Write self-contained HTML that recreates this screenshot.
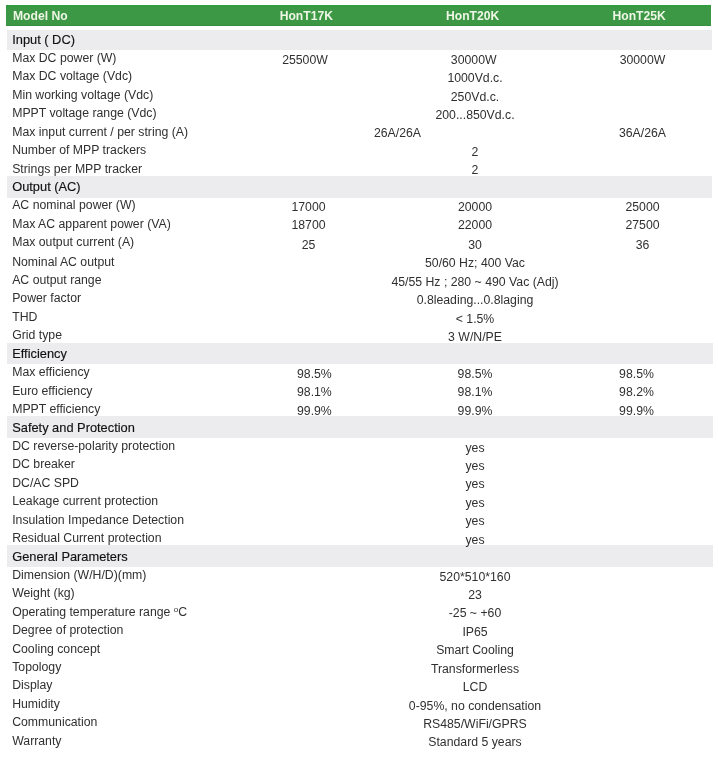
<!DOCTYPE html>
<html><head><meta charset="utf-8"><title>HonT Specifications</title>
<style>
html,body{margin:0;padding:0;background:#fff;}
body{width:718px;height:764px;position:relative;overflow:hidden;font-family:"Liberation Sans",sans-serif;font-size:12.28px;color:#303030;}
.hd{position:absolute;left:6px;top:5px;width:705px;height:21px;background:linear-gradient(to bottom,#329b3e 0,#329b3e 1.5px,#3d9845 2.5px,#3d9845 19px,#388e3f 21px);}
.hd span{position:absolute;top:1px;line-height:21px;color:#eef6e6;font-weight:bold;font-size:12.15px;white-space:nowrap;}
.band{position:absolute;left:6.7px;background:#ececee;}
.r{z-index:1;position:absolute;left:0;width:718px;height:18px;line-height:18px;white-space:nowrap;}
.l{position:absolute;left:12.2px;top:0.6px;}
.v{position:absolute;top:2.3px;width:300px;text-align:center;}
.sec .l{top:0.8px;color:#111;font-size:12.83px;-webkit-text-stroke:0.15px #111;}
.deg{font-size:8px;position:relative;top:-4px;}
</style></head><body>
<div class="hd"><span style="left:7px">Model No</span><span style="left:273.7px">HonT17K</span><span style="left:440px">HonT20K</span><span style="left:606.5px">HonT25K</span></div>
<div class="band" style="top:29.60px;height:20.80px;width:704.9px"></div>
<div class="r sec" style="top:30.00px"><span class="l">Input ( DC)</span></div>
<div class="r" style="top:48.43px"><span class="l">Max DC power (W)</span><span class="v" style="left:155.0px">25500W</span><span class="v" style="left:323.7px">30000W</span><span class="v" style="left:492.5px">30000W</span></div>
<div class="r" style="top:66.86px"><span class="l">Max DC voltage (Vdc)</span><span class="v" style="left:325.0px">1000Vd.c.</span></div>
<div class="r" style="top:85.29px"><span class="l">Min working voltage (Vdc)</span><span class="v" style="left:325.0px">250Vd.c.</span></div>
<div class="r" style="top:103.72px"><span class="l">MPPT voltage range (Vdc)</span><span class="v" style="left:325.0px">200...850Vd.c.</span></div>
<div class="r" style="top:122.15px"><span class="l">Max input current / per string (A)</span><span class="v" style="left:247.5px">26A/26A</span><span class="v" style="left:492.5px">36A/26A</span></div>
<div class="r" style="top:140.58px"><span class="l">Number of MPP trackers</span><span class="v" style="left:325.0px">2</span></div>
<div class="r" style="top:159.01px"><span class="l">Strings per MPP tracker</span><span class="v" style="left:325.0px">2</span></div>
<div class="band" style="top:176.30px;height:21.30px;width:704.9px"></div>
<div class="r sec" style="top:177.44px"><span class="l">Output (AC)</span></div>
<div class="r" style="top:195.87px"><span class="l">AC nominal power (W)</span><span class="v" style="left:158.5px">17000</span><span class="v" style="left:325.0px">20000</span><span class="v" style="left:492.5px">25000</span></div>
<div class="r" style="top:214.30px"><span class="l">Max AC apparent power (VA)</span><span class="v" style="left:158.5px;top:1.7px">18700</span><span class="v" style="left:325.0px;top:1.7px">22000</span><span class="v" style="left:492.5px;top:1.7px">27500</span></div>
<div class="r" style="top:232.73px"><span class="l">Max output current (A)</span><span class="v" style="left:158.5px;top:3.0px">25</span><span class="v" style="left:325.0px;top:3.0px">30</span><span class="v" style="left:492.5px;top:3.0px">36</span></div>
<div class="r" style="top:251.96px"><span class="l">Nominal AC output</span><span class="v" style="left:325.0px">50/60 Hz; 400 Vac</span></div>
<div class="r" style="top:270.39px"><span class="l">AC output range</span><span class="v" style="left:325.0px">45/55 Hz ; 280 ~ 490 Vac (Adj)</span></div>
<div class="r" style="top:288.82px"><span class="l">Power factor</span><span class="v" style="left:325.0px">0.8leading...0.8laging</span></div>
<div class="r" style="top:307.25px"><span class="l">THD</span><span class="v" style="left:325.0px">&lt; 1.5%</span></div>
<div class="r" style="top:325.68px"><span class="l">Grid type</span><span class="v" style="left:325.0px">3 W/N/PE</span></div>
<div class="band" style="top:343.00px;height:21.00px;width:706.0px"></div>
<div class="r sec" style="top:344.11px"><span class="l">Efficiency</span></div>
<div class="r" style="top:362.54px"><span class="l">Max efficiency</span><span class="v" style="left:164.4px">98.5%</span><span class="v" style="left:325.0px">98.5%</span><span class="v" style="left:486.5px">98.5%</span></div>
<div class="r" style="top:380.97px"><span class="l">Euro efficiency</span><span class="v" style="left:164.4px">98.1%</span><span class="v" style="left:325.0px">98.1%</span><span class="v" style="left:486.5px">98.2%</span></div>
<div class="r" style="top:399.40px"><span class="l">MPPT efficiency</span><span class="v" style="left:164.4px">99.9%</span><span class="v" style="left:325.0px">99.9%</span><span class="v" style="left:486.5px">99.9%</span></div>
<div class="band" style="top:416.40px;height:22.00px;width:706.0px"></div>
<div class="r sec" style="top:417.83px"><span class="l">Safety and Protection</span></div>
<div class="r" style="top:436.26px"><span class="l">DC reverse-polarity protection</span><span class="v" style="left:325.0px">yes</span></div>
<div class="r" style="top:454.69px"><span class="l">DC breaker</span><span class="v" style="left:325.0px">yes</span></div>
<div class="r" style="top:473.12px"><span class="l">DC/AC SPD</span><span class="v" style="left:325.0px">yes</span></div>
<div class="r" style="top:491.55px"><span class="l">Leakage current protection</span><span class="v" style="left:325.0px">yes</span></div>
<div class="r" style="top:509.98px"><span class="l">Insulation Impedance Detection</span><span class="v" style="left:325.0px">yes</span></div>
<div class="r" style="top:528.41px"><span class="l">Residual Current protection</span><span class="v" style="left:325.0px">yes</span></div>
<div class="band" style="top:544.70px;height:22.00px;width:706.0px"></div>
<div class="r sec" style="top:546.84px"><span class="l">General Parameters</span></div>
<div class="r" style="top:565.27px"><span class="l">Dimension (W/H/D)(mm)</span><span class="v" style="left:325.0px">520*510*160</span></div>
<div class="r" style="top:583.70px"><span class="l">Weight (kg)</span><span class="v" style="left:325.0px">23</span></div>
<div class="r" style="top:602.13px"><span class="l">Operating temperature range <span class="deg">o</span>C</span><span class="v" style="left:325.0px">-25 ~ +60</span></div>
<div class="r" style="top:620.56px"><span class="l">Degree of protection</span><span class="v" style="left:325.0px">IP65</span></div>
<div class="r" style="top:638.99px"><span class="l">Cooling concept</span><span class="v" style="left:325.0px">Smart Cooling</span></div>
<div class="r" style="top:657.42px"><span class="l">Topology</span><span class="v" style="left:325.0px">Transformerless</span></div>
<div class="r" style="top:675.85px"><span class="l">Display</span><span class="v" style="left:325.0px">LCD</span></div>
<div class="r" style="top:694.28px"><span class="l">Humidity</span><span class="v" style="left:325.0px">0-95%, no condensation</span></div>
<div class="r" style="top:712.71px"><span class="l">Communication</span><span class="v" style="left:325.0px">RS485/WiFi/GPRS</span></div>
<div class="r" style="top:731.14px"><span class="l">Warranty</span><span class="v" style="left:325.0px">Standard 5 years</span></div>
</body></html>
